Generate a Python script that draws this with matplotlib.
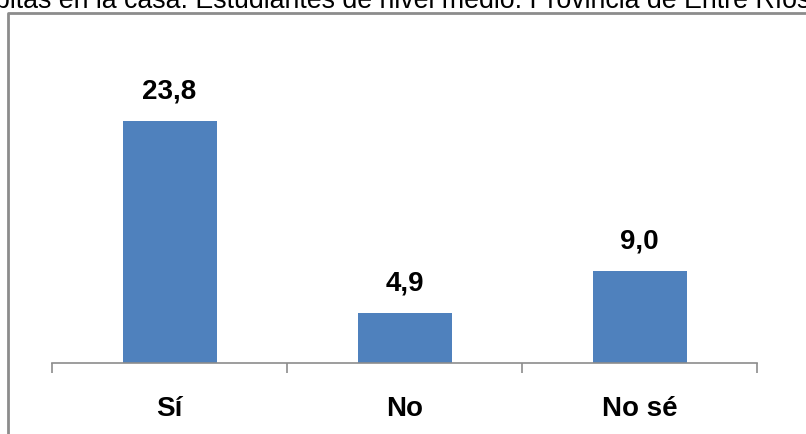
import matplotlib
matplotlib.use("Agg")
import matplotlib.pyplot as plt
from matplotlib.lines import Line2D

categorias = ["Sí", "No", "No sé"]
valores = [23.8, 4.9, 9.0]
titulo = "pitas en la casa. Estudiantes de nivel medio. Provincia de Entre Ríos"

plt.rcParams['font.family'] = ['Liberation Sans', 'DejaVu Sans']

W, H = 806, 434
fig = plt.figure(figsize=(W / 100, H / 100), dpi=100)

# marco gris del grafico (se sale por la derecha y por abajo)
marco = Line2D([8 / W, 8 / W, 1.01], [-0.01, 1 - 12.5 / H, 1 - 12.5 / H],
               transform=fig.transFigure, color="#8c8c8c", lw=2)
fig.add_artist(marco)

fig.text(1.006, 1 - 8 / H, titulo, ha="right", va="baseline",
         fontsize=19.3, color="black")

ax = fig.add_axes([52 / W, 1 - 363 / H, 705 / W, 323 / H])
x = range(len(categorias))
barras = ax.bar(x, valores, width=0.4, color="#4f81bd", zorder=2)

for xi, v in zip(x, valores):
    ax.annotate(f"{v:.1f}".replace(".", ","), (xi, v), xytext=(0, 12),
                textcoords="offset points", ha="center", va="bottom",
                fontsize=20, fontweight="bold")

ax.set_xlim(-0.5, 2.5)
ax.set_ylim(0, 31.76)
for s in ["left", "right", "top"]:
    ax.spines[s].set_visible(False)
ax.spines["bottom"].set_color("#8c8c8c")
ax.spines["bottom"].set_linewidth(1.2)
ax.set_yticks([])

ax.set_xticks(list(x))
ax.set_xticklabels(categorias, fontsize=20, fontweight="bold")
ax.tick_params(axis="x", which="major", length=0, pad=24)
ax.set_xticks([-0.5, 0.5, 1.5, 2.5], minor=True)
ax.tick_params(axis="x", which="minor", length=7.5, width=1.2,
               color="#8c8c8c", direction="out")

fig.savefig("out.png", dpi=100)
